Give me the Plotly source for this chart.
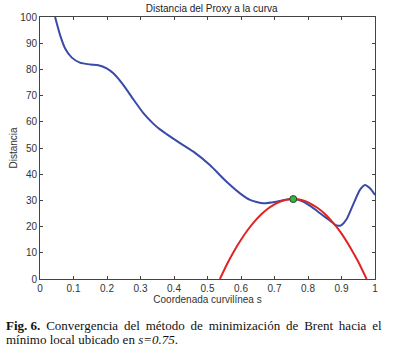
import plotly.graph_objects as go

# Blue: distance from proxy to curve
s_blue = [0.045, 0.06, 0.075, 0.095, 0.119, 0.149, 0.174, 0.199, 0.219, 0.249, 0.279, 0.308,
          0.338, 0.358, 0.378, 0.408, 0.458, 0.507, 0.557, 0.597, 0.627, 0.667, 0.706, 0.741,
          0.756, 0.78, 0.81, 0.836, 0.865, 0.88, 0.89, 0.90, 0.915, 0.935, 0.955, 0.97, 0.985, 1.0]
d_blue = [100, 93.1, 88.0, 84.5, 82.6, 81.9, 81.6, 80.4, 78.5, 74.0, 68.5, 63.4,
          59.3, 57.1, 55.3, 52.7, 48.6, 43.5, 37.1, 32.7, 30.2, 28.9, 29.5, 30.4,
          30.5, 29.8, 27.6, 25.1, 22.3, 20.8, 20.3, 20.6, 22.8, 28.5, 34.0, 35.9, 34.6, 32.1]

# Red: parabola of Brent's method
s_red = [0.537, 0.56, 0.58, 0.60, 0.62, 0.64, 0.66, 0.68, 0.70, 0.72, 0.74, 0.756, 0.77,
         0.79, 0.81, 0.83, 0.85, 0.87, 0.89, 0.91, 0.93, 0.95, 0.975]
d_red = [0, 6.1, 10.8, 15.0, 18.7, 21.9, 24.6, 26.8, 28.5, 29.7, 30.3, 30.5, 30.4,
         29.8, 28.6, 27.0, 24.9, 22.2, 19.1, 15.4, 11.2, 6.6, 0]

# Green: minimum found
s_min = [0.756]
d_min = [30.5]

x_ticks = [0, 0.1, 0.2, 0.3, 0.4, 0.5, 0.6, 0.7, 0.8, 0.9, 1]
x_labels = ["0", "0.1", "0.2", "0.3", "0.4", "0.5", "0.6", "0.7", "0.8", "0.9", "1"]
y_ticks = [0, 10, 20, 30, 40, 50, 60, 70, 80, 90, 100]

fig = go.Figure()
fig.add_trace(go.Scatter(x=s_blue, y=d_blue, mode="lines",
                         line=dict(color="#3a4aa8", width=2, shape="spline", smoothing=0.6),
                         showlegend=False))
fig.add_trace(go.Scatter(x=s_red, y=d_red, mode="lines",
                         line=dict(color="#e02424", width=2, shape="spline", smoothing=0.6),
                         showlegend=False))
fig.add_trace(go.Scatter(x=s_min, y=d_min, mode="markers",
                         marker=dict(color="#3cb043", size=7, line=dict(color="#1f4d1f", width=1)),
                         showlegend=False))

axis_common = dict(showline=True, linecolor="#444", linewidth=1, mirror="allticks",
                   ticks="inside", ticklen=3, tickcolor="#444", showgrid=False, zeroline=False,
                   automargin=False,
                   tickfont=dict(family="Liberation Sans, Arial", size=10, color="#333"))

fig.update_xaxes(range=[0, 1], tickvals=x_ticks, ticktext=x_labels,
                 title=dict(text="Coordenada curvilínea s", standoff=2,
                            font=dict(family="Liberation Sans, Arial", size=10, color="#333")),
                 **axis_common)
fig.update_yaxes(range=[0, 100], tickvals=y_ticks,
                 title=dict(text="Distancia", standoff=0,
                            font=dict(family="Liberation Sans, Arial", size=10, color="#333")),
                 **axis_common)

W, H = 405, 355
fig.update_layout(
    template="none",
    width=W, height=H,
    margin=dict(l=40, r=30, t=17, b=76),
    paper_bgcolor="white", plot_bgcolor="white",
    hovermode=False,
    title=dict(text="Distancia del Proxy a la curva", x=0.5125, xref="paper", xanchor="center",
               y=1 - 8 / H, yanchor="middle", yref="container",
               font=dict(family="Liberation Sans, Arial", size=10, color="#222")),
)

cap_font = dict(family="Liberation Serif, Times New Roman", size=13, color="#111")
line1 = "<b>Fig. 6.</b> Convergencia del método de minimización de Brent hacia el".replace(" ", " \u2009")
line1 = line1.replace("<b>Fig. \u20096.</b>", "<b>Fig. 6.</b>")
fig.add_annotation(text=line1,
                   xref="paper", yref="paper", x=(4 - 40) / 335, y=(279 - 325) / 262,
                   xanchor="left", yanchor="middle", showarrow=False, font=cap_font)
fig.add_annotation(text="mínimo local ubicado en <i>s=0.75</i>.",
                   xref="paper", yref="paper", x=(4 - 40) / 335, y=(279 - 339) / 262,
                   xanchor="left", yanchor="middle", showarrow=False, font=cap_font)

# remove the browser's default 8px page margin so the figure fills the window exactly
fig.write_html("out.html", config={"displayModeBar": False},
               post_script="document.body.style.margin='0';document.body.style.overflow='hidden';")
